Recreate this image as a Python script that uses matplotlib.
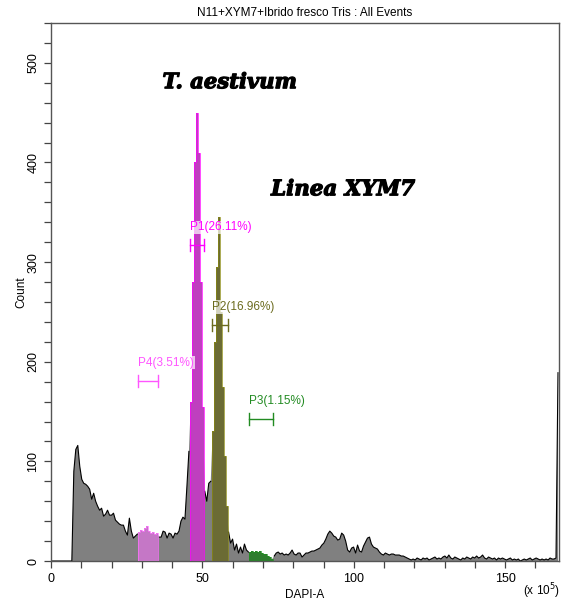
"""DAPI-A flow cytometry histogram: N11 + XYM7 + fresh hybrid, with gates P1-P4."""
import matplotlib
matplotlib.use("Agg")
import matplotlib.pyplot as plt
import matplotlib.patheffects as pe
import numpy as np

plt.rcParams['font.family'] = ['Liberation Sans', 'DejaVu Sans']

# 256 channels spanning 0 .. 2^24 (in units of 10^5)
X_MAX = 167.77

COUNTS = [
    0, 0, 0, 0, 0, 0, 0, 0, 0, 0,                      # 0-9
    0, 90, 112, 116, 95, 82, 78, 77, 75, 72,           # 10-19
    62, 68, 60, 55, 51, 53, 45, 47, 51, 46,            # 20-29
    46, 48, 41, 39, 37, 36, 36, 30, 26, 43,            # 30-39
    30, 23, 25, 27, 29, 31, 30, 33, 35, 30,            # 40-49
    28, 29, 27, 28, 24, 24, 30, 29, 23, 28,            # 50-59
    27, 23, 28, 27, 30, 40, 44, 42, 75, 110,           # 60-69
    160, 280, 400, 450, 410, 280, 155, 70, 60, 78,     # 70-79
    80, 130, 220, 295, 345, 250, 175, 105, 55, 29,     # 80-89
    18, 22, 11, 17, 8, 14, 8, 17, 11, 9,               # 90-99
    9, 10, 9, 10, 9, 10, 8, 7, 7, 5,                   # 100-109
    4, 2, 5, 8, 9, 7, 8, 6, 7, 6,                      # 110-119
    8, 11, 7, 6, 8, 8, 4, 6, 8, 8,                     # 120-129
    9, 10, 10, 11, 12, 13, 16, 18, 22, 27,             # 130-139
    30, 28, 25, 24, 21, 22, 28, 26, 20, 11,            # 140-149
    9, 13, 14, 8, 16, 10, 9, 15, 19, 23,               # 150-159
    24, 17, 14, 13, 12, 9, 7, 6, 8, 7,                 # 160-169
    6, 7, 7, 6, 6, 6, 5, 5, 4, 3,                      # 170-179
    2, 1, 2, 1, 3, 2, 1, 3, 2, 3,                      # 180-189
    1, 2, 3, 4, 2, 3, 2, 4, 5, 3,                      # 190-199
    6, 3, 2, 4, 3, 2, 1, 3, 2, 4,                      # 200-209
    3, 2, 4, 3, 5, 3, 4, 6, 3, 2,                      # 210-219
    4, 3, 2, 3, 1, 3, 2, 3, 2, 1,                      # 220-229
    2, 3, 1, 2, 1, 2, 0, 1, 2, 1,                      # 230-239
    2, 3, 1, 2, 3, 2, 1, 2, 1, 2,                      # 240-249
    1, 3, 2, 2, 3, 189,                                # 250-255
]

# gates on DAPI-A
GATE_LABELS = ["P4(3.51%)", "P1(26.11%)", "P2(16.96%)", "P3(1.15%)"]
GATE_RANGES = [(28.6, 35.5), (45.9, 50.5), (53.0, 58.3), (65.5, 73.4)]
GATE_LEVELS = [181, 317, 237, 143]
GATE_FILL = ["#c577c6", "#bf3fbf", "#6b6b34", "#2e7d2e"]
GATE_EDGE = ["#ff70ff", "#ff00ff", "#8a8a10", "#1f8f1f"]
GATE_TEXT = ["#ff55ff", "#ff00ff", "#6b6b1e", "#228b22"]


def main():
    counts = np.array(COUNTS, dtype=float)
    n = len(counts)
    edges = np.linspace(0, X_MAX, n + 1)
    centers = 0.5 * (edges[:-1] + edges[1:])

    fig = plt.figure(figsize=(5.61, 6.02), dpi=100)
    ax = fig.add_axes([0.0909, 0.0681, 0.9055, 0.8937])

    gated = np.zeros(n, dtype=bool)
    for lo, hi in GATE_RANGES:
        gated |= (centers >= lo) & (centers <= hi)
    free = ~gated
    near_free = free | np.roll(free, 1) | np.roll(free, -1)

    # ungated events: grey polyline histogram
    ax.fill_between(centers, counts, 0, where=near_free, color="#808080", linewidth=0)
    ax.plot(centers, np.where(gated, np.nan, counts), color="black", linewidth=0.8)

    for lab, (lo, hi), lvl, fc, ec, tc in zip(GATE_LABELS, GATE_RANGES, GATE_LEVELS,
                                               GATE_FILL, GATE_EDGE, GATE_TEXT):
        idx = np.where((centers >= lo) & (centers <= hi))[0]
        sub_edges = edges[idx[0]:idx[-1] + 2]
        ax.stairs(counts[idx], sub_edges, fill=True, color=fc, linewidth=0, zorder=3)
        ax.stairs(counts[idx], sub_edges, fill=False, color=ec, linewidth=0.5,
                  baseline=0, zorder=3)
        x0, x1 = sub_edges[0], sub_edges[-1]
        ax.plot([x0, x1], [lvl, lvl], color=tc, linewidth=1.0, zorder=4)
        ax.plot([x0, x0], [lvl - 6, lvl + 6], color=tc, linewidth=1.0, zorder=4)
        ax.plot([x1, x1], [lvl - 6, lvl + 6], color=tc, linewidth=1.0, zorder=4)
        ax.text(x0, lvl + 12, lab, color=tc, fontsize=8.5, ha="left", va="bottom", zorder=5,
                bbox=dict(facecolor="white", alpha=0.7, edgecolor="none", pad=0.5))

    bold = [pe.withStroke(linewidth=0.9, foreground="black")]
    ax.text(0.352, 0.890, "T. aestivum", transform=ax.transAxes, ha="center", va="center",
            fontsize=15.2, fontweight="bold", fontstyle="italic", family="DejaVu Serif",
            path_effects=bold)
    ax.text(0.575, 0.691, "Linea XYM7", transform=ax.transAxes, ha="center", va="center",
            fontsize=15.4, fontweight="bold", fontstyle="italic", family="DejaVu Serif",
            path_effects=bold)

    ax.set_xlim(0, X_MAX)
    ax.set_ylim(0, 540)
    ax.set_xticks([0, 50, 100, 150])
    ax.set_xticks(np.arange(0, 161, 10), minor=True)
    ax.set_yticks([0, 100, 200, 300, 400, 500])
    ax.set_yticks(np.arange(0, 541, 20), minor=True)
    ax.tick_params(which="both", direction="out", length=5, width=0.9, color="#444444",
                   labelsize=9)
    for lbl in ax.get_yticklabels():
        lbl.set_rotation(90)
        lbl.set_va("center")
    for sp in ax.spines.values():
        sp.set_color("#555555")
        sp.set_linewidth(1.0)

    ax.set_ylabel("Count", fontsize=8.5, labelpad=0)
    ax.set_xlabel("DAPI-A", fontsize=8.5, labelpad=3)
    ax.set_title("N11+XYM7+Ibrido fresco Tris : All Events", fontsize=8.5, pad=5)
    fig.text(0.999, 0.001, r"(x 10$^5$)", ha="right", va="bottom", fontsize=8.5)

    fig.savefig("out.png", dpi=100)


if __name__ == "__main__":
    main()
